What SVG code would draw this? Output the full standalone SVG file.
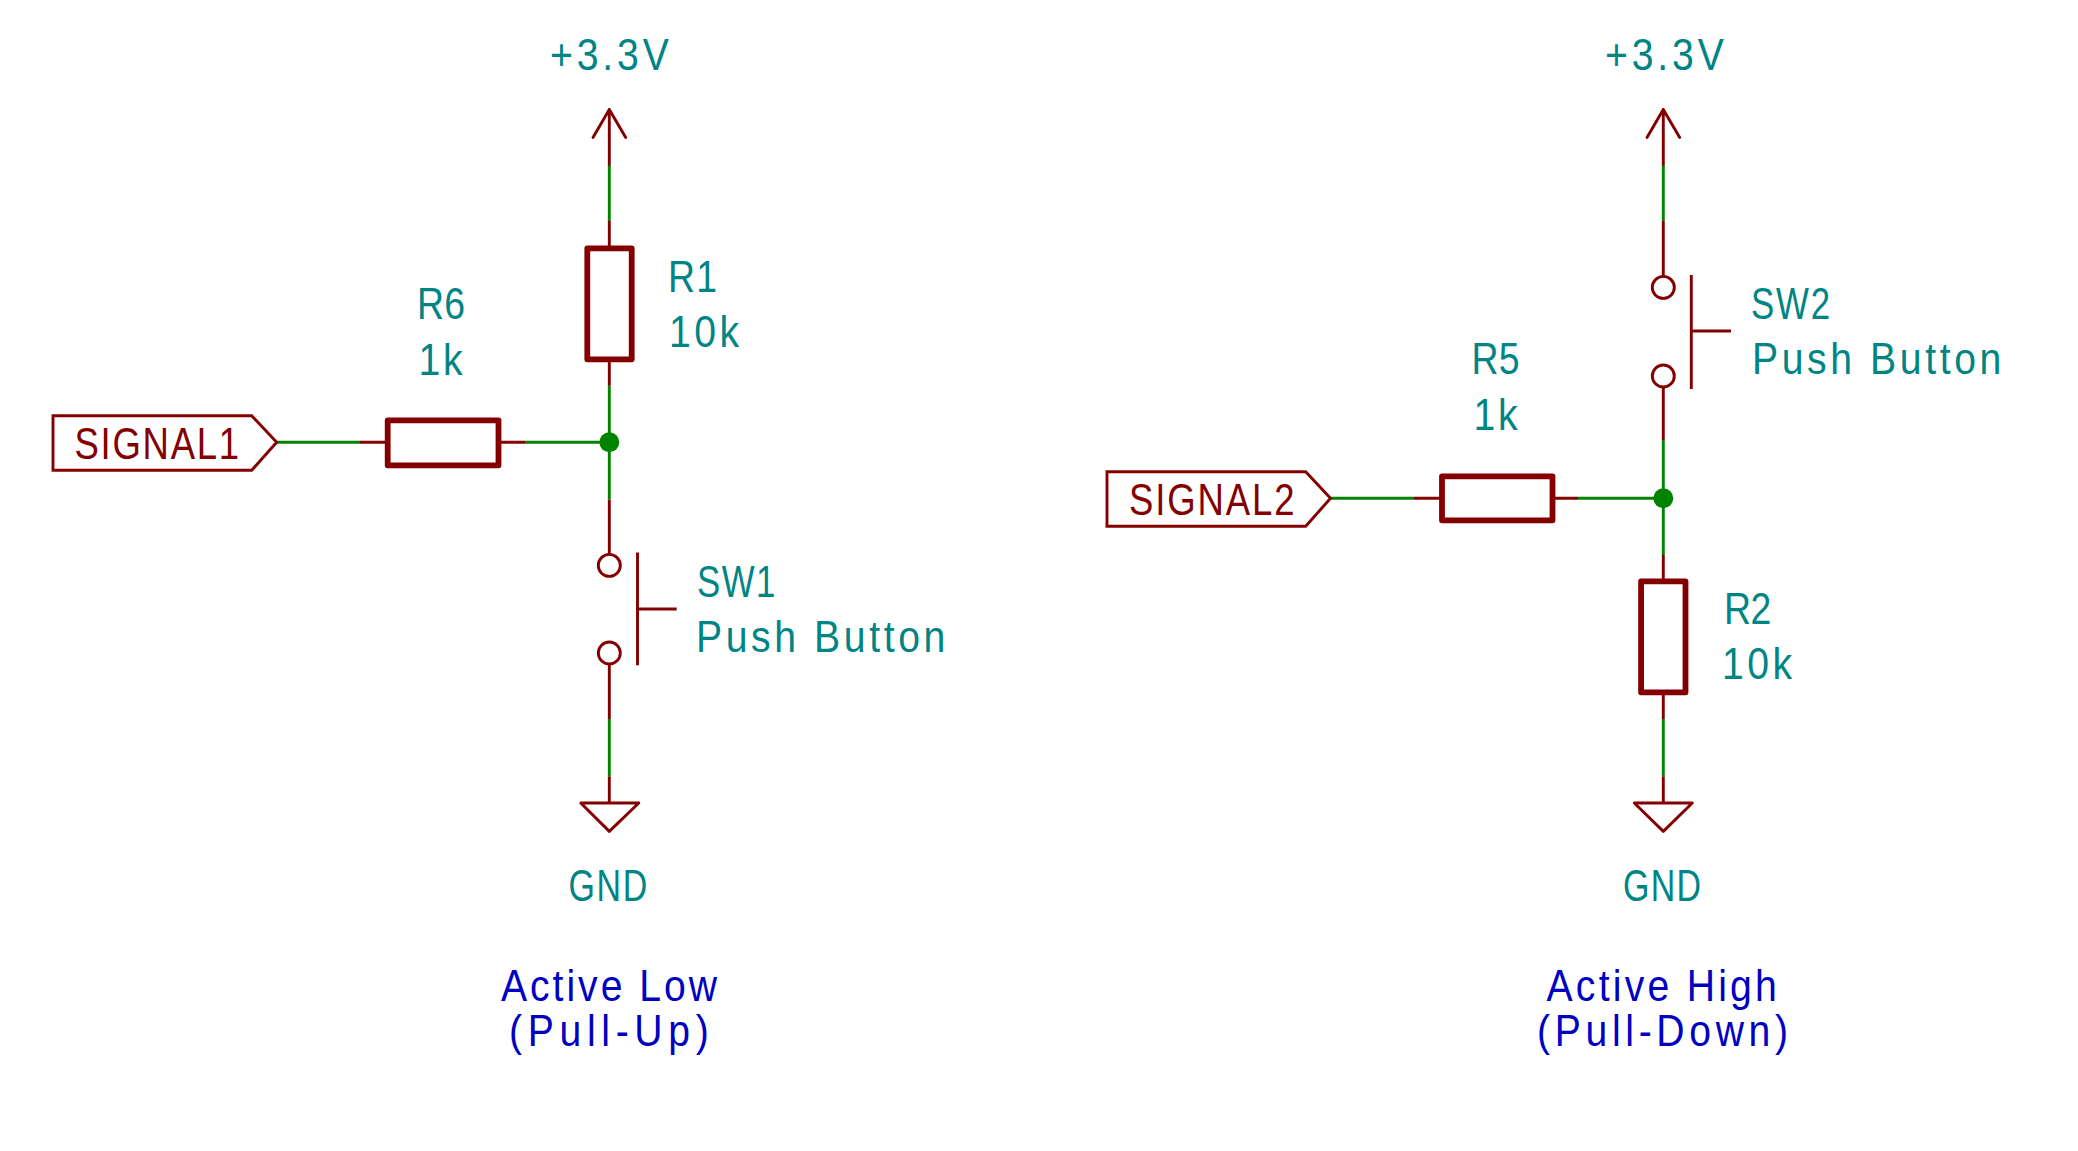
<svg xmlns="http://www.w3.org/2000/svg" width="2078" height="1151" viewBox="0 0 2078 1151">
<style>
.w{stroke:#008400;stroke-width:2.9;fill:none}
.p{stroke:#840000;stroke-width:2.9;fill:none}
.b{stroke:#840000;stroke-width:5.8;fill:none;stroke-linejoin:round}
.l{stroke:#840000;stroke-width:2.9;fill:none;stroke-linejoin:round;stroke-linecap:round}
.j{fill:#008400}
text{font-family:"Liberation Sans",Arial,sans-serif;font-size:43.5px}
.t{fill:#008484}
.r{fill:#840000}
.n{fill:#0000c2}
</style>
<rect width="2078" height="1151" fill="#fff"/>
<g id="connectors">
<path class="w" d="M609.3 164.6V221M609.3 385.8V499.4M609.3 719V776.3M276.700 442.300H360M525 442.300H609.300"/>
<path class="w" d="M1663.300 164.600V221M1663.300 440V555M1663.300 719V776.300M1330.500 498.300H1414M1578 498.300H1663.300"/>
</g>
<g id="vcc1"><path class="l" d="M593 137.500L609.300 109.500L625.700 137.500M609.300 109.500V164.600"/><text class="t" transform="matrix(.9 0 0 1 550 70)" textLength="132">+3.3V</text></g>
<g id="R1"><path class="p" d="M609.300 221V248M609.300 359V385.800"/><rect class="b" x="587.300" y="248.300" width="44.400" height="111"/><text class="t" transform="matrix(.86 0 0 1 668 292)" textLength="57">R1</text><text class="t" transform="matrix(.9 0 0 1 669 347)" textLength="78">10k</text></g>
<g id="R6"><path class="p" d="M360 442.300H388M498 442.300H525"/><rect class="b" x="387.700" y="420.300" width="110.800" height="45"/><text class="t" transform="matrix(.86 0 0 1 417 318.600)" textLength="56">R6</text><text class="t" transform="matrix(.9 0 0 1 418.500 374.500)" textLength="49">1k</text></g>
<g id="label1"><path class="p" d="M53 415.700H251.700L276.700 442.300L251.700 470.300H53Z"/><text class="r" transform="matrix(.84 0 0 1 74.500 459)" textLength="196">SIGNAL1</text></g>
<g id="SW1"><path class="p" d="M609.300 499.400V554M609.300 664V719"/><circle class="p" cx="609.300" cy="565.400" r="11"/><circle class="p" cx="609.300" cy="653" r="11"/><path class="p" d="M637.500 552.400V665.300M637.500 609H676.700"/><text class="t" transform="matrix(.8 0 0 1 697 596.700)" textLength="98">SW1</text><text class="t" transform="matrix(.9 0 0 1 696 651.800)" textLength="277">Push Button</text></g>
<g id="gnd1"><path class="p" d="M609.300 776.300V803"/><path class="l" d="M580.800 803H638.800L609.300 831.400Z"/><text class="t" transform="matrix(.78 0 0 1 568.500 901)" textLength="101">GND</text></g>
<g id="note1"><text class="n" transform="matrix(.9 0 0 1 501 1001)" textLength="240">Active Low</text><text class="n" transform="matrix(.9 0 0 1 509 1045.500)" textLength="222">(Pull-Up)</text></g>
<g id="vcc2"><path class="l" d="M1647 137.500L1663.300 109.500L1679.700 137.500M1663.300 109.500V164.600"/><text class="t" transform="matrix(.9 0 0 1 1605 70)" textLength="132">+3.3V</text></g>
<g id="SW2"><path class="p" d="M1663.300 221V276.400M1663.300 387V440"/><circle class="p" cx="1663.300" cy="287.400" r="11"/><circle class="p" cx="1663.300" cy="376" r="11"/><path class="p" d="M1691.300 275V389M1691.300 331H1731"/><text class="t" transform="matrix(.8 0 0 1 1751 318.600)" textLength="99">SW2</text><text class="t" transform="matrix(.9 0 0 1 1752 374)" textLength="277">Push Button</text></g>
<g id="R5"><path class="p" d="M1414 498.300H1441M1552 498.300H1578"/><rect class="b" x="1442" y="476.300" width="110.500" height="44"/><text class="t" transform="matrix(.86 0 0 1 1471.500 374)" textLength="56">R5</text><text class="t" transform="matrix(.9 0 0 1 1473.500 429.600)" textLength="49">1k</text></g>
<g id="label2"><path class="p" d="M1107 471.700H1305.700L1330.500 498.300L1305.700 526.300H1107Z"/><text class="r" transform="matrix(.84 0 0 1 1129 515)" textLength="197">SIGNAL2</text></g>
<g id="R2"><path class="p" d="M1663.300 555V581M1663.300 692V719"/><rect class="b" x="1641.100" y="581.300" width="44.400" height="111"/><text class="t" transform="matrix(.86 0 0 1 1724 624)" textLength="55">R2</text><text class="t" transform="matrix(.9 0 0 1 1722 679.300)" textLength="78">10k</text></g>
<g id="gnd2"><path class="p" d="M1663.300 776.300V803"/><path class="l" d="M1634.300 803H1692.300L1663.300 831.400Z"/><text class="t" transform="matrix(.78 0 0 1 1623 901)" textLength="100">GND</text></g>
<g id="note2"><text class="n" transform="matrix(.9 0 0 1 1546.500 1001)" textLength="256">Active High</text><text class="n" transform="matrix(.9 0 0 1 1537 1045.500)" textLength="279">(Pull-Down)</text></g>
<g id="junctions"><circle class="j" cx="609.300" cy="442.300" r="10"/><circle class="j" cx="1663.300" cy="498.300" r="10"/></g>
</svg>
